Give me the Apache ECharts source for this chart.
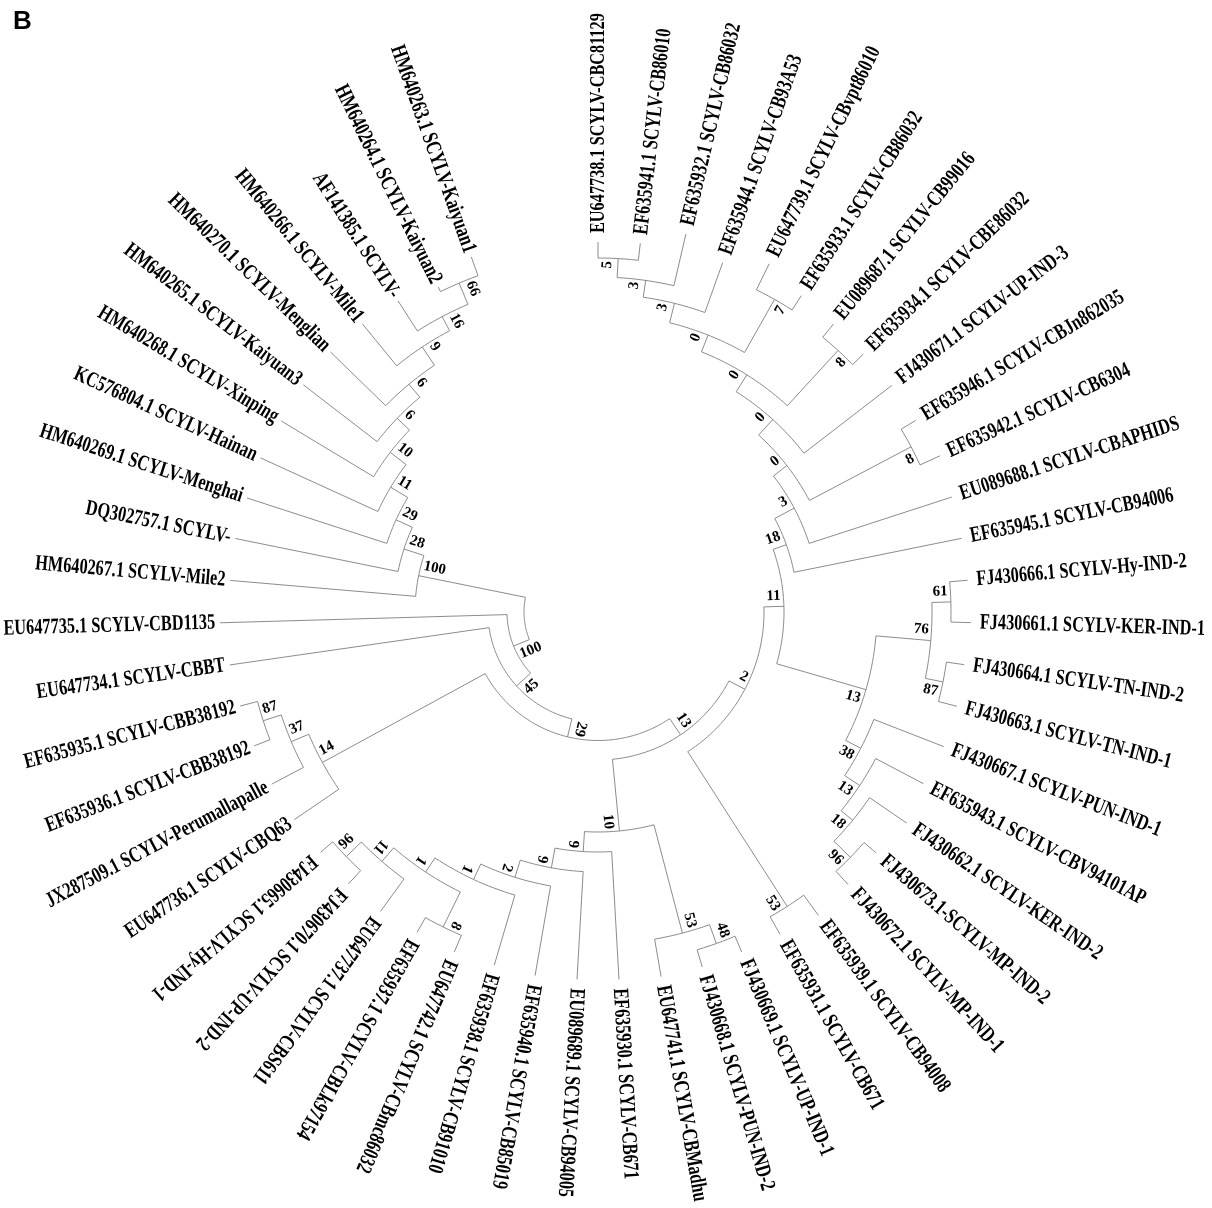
<!DOCTYPE html>
<html><head><meta charset="utf-8">
<script src="https://cdn.jsdelivr.net/npm/echarts/dist/echarts.min.js"></script>
<style>html,body{margin:0;padding:0;background:#fff}#chart{width:1212px;height:1208px}</style>
</head><body><div id="chart"></div>
<script>
// Leaves in clockwise order starting at 12 o'clock
const leafNames = [
 'EU647738.1 SCYLV-CBC81129','EF635941.1 SCYLV-CB86010','EF635932.1 SCYLV-CB86032','EF635944.1 SCYLV-CB93A53',
 'EU647739.1 SCYLV-CBvpt86010','EF635933.1 SCYLV-CB86032','EU089687.1 SCYLV-CB99016','EF635934.1 SCYLV-CBE86032',
 'FJ430671.1 SCYLV-UP-IND-3','EF635946.1 SCYLV-CBJn862035','EF635942.1 SCYLV-CB6304','EU089688.1 SCYLV-CBAPHIDS',
 'EF635945.1 SCYLV-CB94006','FJ430666.1 SCYLV-Hy-IND-2','FJ430661.1 SCYLV-KER-IND-1','FJ430664.1 SCYLV-TN-IND-2',
 'FJ430663.1 SCYLV-TN-IND-1','FJ430667.1 SCYLV-PUN-IND-1','EF635943.1 SCYLV-CBV94101AP','FJ430662.1 SCYLV-KER-IND-2',
 'FJ430673.1-SCYLV-MP-IND-2','FJ430672.1 SCYLV-MP-IND-1','EF635939.1 SCYLV-CB94008','EF635931.1 SCYLV-CB671',
 'FJ430669.1 SCYLV-UP-IND-1','FJ430668.1 SCYLV-PUN-IND-2','EU647741.1 SCYLV-CBMadhu','EF635930.1 SCYLV-CB671',
 'EU089689.1 SCYLV-CB94005','EF635940.1 SCYLV-CB85019','EF635938.1 SCYLV-CB91010','EU647742.1 SCYLV-CBmc86032',
 'EF635937.1 SCYLV-CBLk97154','EU647737.1 SCYLV-CBS611','FJ430670.1 SCYLV-UP-IND-2','FJ430665.1 SCYLV-Hy-IND-1',
 'EU647736.1 SCYLV-CBQ63','JX287509.1 SCYLV-Perumallapalle','EF635936.1 SCYLV-CBB38192','EF635935.1 SCYLV-CBB38192',
 'EU647734.1 SCYLV-CBBT','EU647735.1 SCYLV-CBD1135','HM640267.1 SCYLV-Mile2','DQ302757.1 SCYLV-',
 'HM640269.1 SCYLV-Menghai','KC576804.1 SCYLV-Hainan','HM640268.1 SCYLV-Xinping','HM640265.1 SCYLV-Kaiyuan3',
 'HM640270.1 SCYLV-Menglian','HM640266.1 SCYLV-Mile1','AF141385.1 SCYLV-','HM640264.1 SCYLV-Kaiyuan2',
 'HM640263.1 SCYLV-Kaiyuan1'
];
// distance of each leaf tip from the root
const leafDepth = [
 2.96,2.97,3.14,2.97,3.14,3.02,2.98,2.96,2.97,2.97,3.02,2.98,2.97,2.97,2.99,2.96,2.97,2.97,2.94,3.00,
 2.94,2.96,3.01,2.96,2.95,2.96,2.96,2.94,2.94,2.95,2.94,2.95,2.94,2.96,2.95,2.93,2.94,2.95,2.95,2.96,
 2.98,3.04,2.95,2.96,2.95,2.97,2.96,2.98,2.99,2.98,2.96,2.88,3.03
];
// internal nodes (children in clockwise order)
const nodeIds = ['n5','n3a','n3b','n7','n0a','n8a','n0b','n0c','n8b','n0d','n3c','n18',
 'n61','n87','n76','n96i','n18i','n13i','n38','n13I','n11','n53b','n2',
 'n48','n53','n96n','n11n','n8n','n1b','n1a','n2n','n9b','n9a','n10','nE',
 'n87L','n37','n14','nD','nC','nB',
 'n66','n16','n9c','n6a','n6b','n10c','n11c','n29c','n28','n100c','root'];
const nodeChildren = [
 ['L1','L2'],['n5','L3'],['n3a','L4'],['L5','L6'],['n3b','n7'],['L7','L8'],['n0a','n8a'],['n0b','L9'],
 ['L10','L11'],['n0c','n8b'],['n0d','L12'],['n3c','L13'],
 ['L14','L15'],['L16','L17'],['n61','n87'],['L21','L22'],['L20','n96i'],['L19','n18i'],['L18','n13i'],
 ['n76','n38'],['n18','n13I'],['L23','L24'],['n11','n53b'],
 ['L25','L26'],['n48','L27'],['L35','L36'],['L34','n96n'],['L32','L33'],['n8n','n11n'],['L31','n1b'],
 ['L30','n1a'],['L29','n2n'],['L28','n9b'],['n53','n9a'],['n2','n10'],
 ['L39','L40'],['L38','n87L'],['L37','n37'],['nE','n14'],['nD','L41'],['nC','L42'],
 ['L52','L53'],['L51','n66'],['L50','n16'],['L49','n9c'],['L48','n6a'],['L47','n6b'],['L46','n10c'],
 ['L45','n11c'],['L44','n29c'],['L43','n28'],['nB','n100c']
];
const nodeDepth = [
 2.80,2.61,2.44,2.85,2.24,2.81,2.06,1.86,2.80,1.65,1.48,1.26,
 2.79,2.78,2.60,2.78,2.55,2.40,2.22,2.05,1.12,2.76,0.92,
 2.78,2.58,2.77,2.56,2.77,2.38,2.21,2.04,1.86,1.66,1.46,0.74,
 2.78,2.59,2.40,0.545,0.36,0.17,
 2.83,2.60,2.44,2.22,2.05,1.88,1.68,1.48,1.30,1.09,0
];
const nodeSupport = [
 5,3,3,7,0,8,0,0,8,0,3,18,
 61,87,76,96,18,13,38,13,11,53,2,
 48,53,96,11,8,1,1,2,9,9,10,13,
 87,37,14,29,45,100,
 66,16,9,6,6,10,11,29,28,100,null
];
const angleSlots = 55;      // leaf slots around the circle (3 left empty at top-left)
const rootOffset = 0.74;    // empty hole radius in depth units

// ---- build tree
const nodes = {};
leafNames.forEach((nm, i) => { nodes['L' + (i + 1)] = { id: 'L' + (i + 1), leaf: true, angle: i, depth: leafDepth[i], name: nm }; });
nodeIds.forEach((id, k) => { nodes[id] = { id, leaf: false, depth: nodeDepth[k], children: nodeChildren[k], support: nodeSupport[k] }; });
nodeIds.forEach(id => nodes[id].children.forEach((c, ci) => { nodes[c].parent = id; nodes[c].side = ci === 0 ? -1 : 1; }));
function setAngle(id) {
  const n = nodes[id];
  if (n.leaf) return n.angle;
  const as = n.children.map(setAngle);
  n.a0 = as[0]; n.a1 = as[as.length - 1]; n.angle = (n.a0 + n.a1) / 2;
  return n.angle;
}
setAngle('root');
const items = Object.values(nodes);
const data = items.map(n => [n.depth, n.angle, n.parent ? nodes[n.parent].depth : n.depth,
  n.leaf ? n.angle : n.a0, n.leaf ? n.angle : n.a1]);

const LINE = '#8c8c8c';
function renderItem(params, api) {
  const n = items[params.dataIndex];
  const d = api.value(0), a = api.value(1), pd = api.value(2), a0 = api.value(3), a1 = api.value(4);
  const cx = params.coordSys.cx, cy = params.coordSys.cy;
  const p = api.coord([d, a]);
  const els = [];
  const ls = { stroke: LINE, lineWidth: 1, fill: 'none' };
  if (n.parent) els.push({ type: 'polyline', silent: true, shape: { points: [api.coord([pd, a]), p] }, style: ls });
  if (!n.leaf) {
    const pts = [];
    const steps = Math.max(2, Math.ceil(Math.abs(a1 - a0) * 6));
    for (let k = 0; k <= steps; k++) pts.push(api.coord([d, a0 + (a1 - a0) * k / steps]));
    els.push({ type: 'polyline', silent: true, shape: { points: pts }, style: ls });
  }
  let ux = p[0] - cx, uy = p[1] - cy;
  const len = Math.hypot(ux, uy) || 1; ux /= len; uy /= len;
  let theta = Math.atan2(ux, -uy) * 180 / Math.PI; if (theta < 0) theta += 360;
  if (n.leaf) {
    const flip = theta > 232 && theta < 350;
    const rot = Math.atan2(-uy, ux) + (flip ? Math.PI : 0);
    const g = flip ? 5 : 9;
    els.push({ type: 'text', silent: true, x: p[0] + ux * g, y: p[1] + uy * g, rotation: rot, scaleX: 0.74, scaleY: 1,
      style: { text: n.name, x: 0, y: 0, font: 'bold 22px "Liberation Serif"', fill: '#000',
        align: flip ? 'right' : 'left', textAlign: flip ? 'right' : 'left', verticalAlign: 'middle', textVerticalAlign: 'middle' } });
  } else if (n.support !== null && n.support !== undefined) {
    const flip = theta > 224 && theta < 350;
    const rot = Math.atan2(-uy, ux) + (flip ? Math.PI : 0);
    const s = n.side, cwx = -uy, cwy = ux;
    const ax = p[0] - ux * 3 + cwx * s * 3, ay = p[1] - uy * 3 + cwy * s * 3;
    const va = !flip ? (s < 0 ? 'bottom' : 'top') : (s > 0 ? 'bottom' : 'top');
    els.push({ type: 'text', silent: true, x: ax, y: ay, rotation: rot,
      style: { text: String(n.support), x: 0, y: 0, font: 'bold 15px "Liberation Serif"', fill: '#000',
        align: flip ? 'left' : 'right', textAlign: flip ? 'left' : 'right', verticalAlign: va, textVerticalAlign: va } });
  }
  return { type: 'group', children: els };
}

const chart = echarts.init(document.getElementById('chart'));
chart.setOption({
  animation: false,
  backgroundColor: '#fff',
  title: { text: 'B', left: 8, top: 4, textStyle: { fontSize: 26, fontWeight: 'bold', fontFamily: '"Liberation Sans", Arial', color: '#000' } },
  polar: { center: [598, 612], radius: 500 },
  angleAxis: { type: 'value', min: 0, max: angleSlots, startAngle: 90, clockwise: true, show: false },
  radiusAxis: { type: 'value', min: -rootOffset, max: 5 - rootOffset, show: false },
  series: [{ type: 'custom', coordinateSystem: 'polar', renderItem, data, silent: true }]
});
</script></body></html>
